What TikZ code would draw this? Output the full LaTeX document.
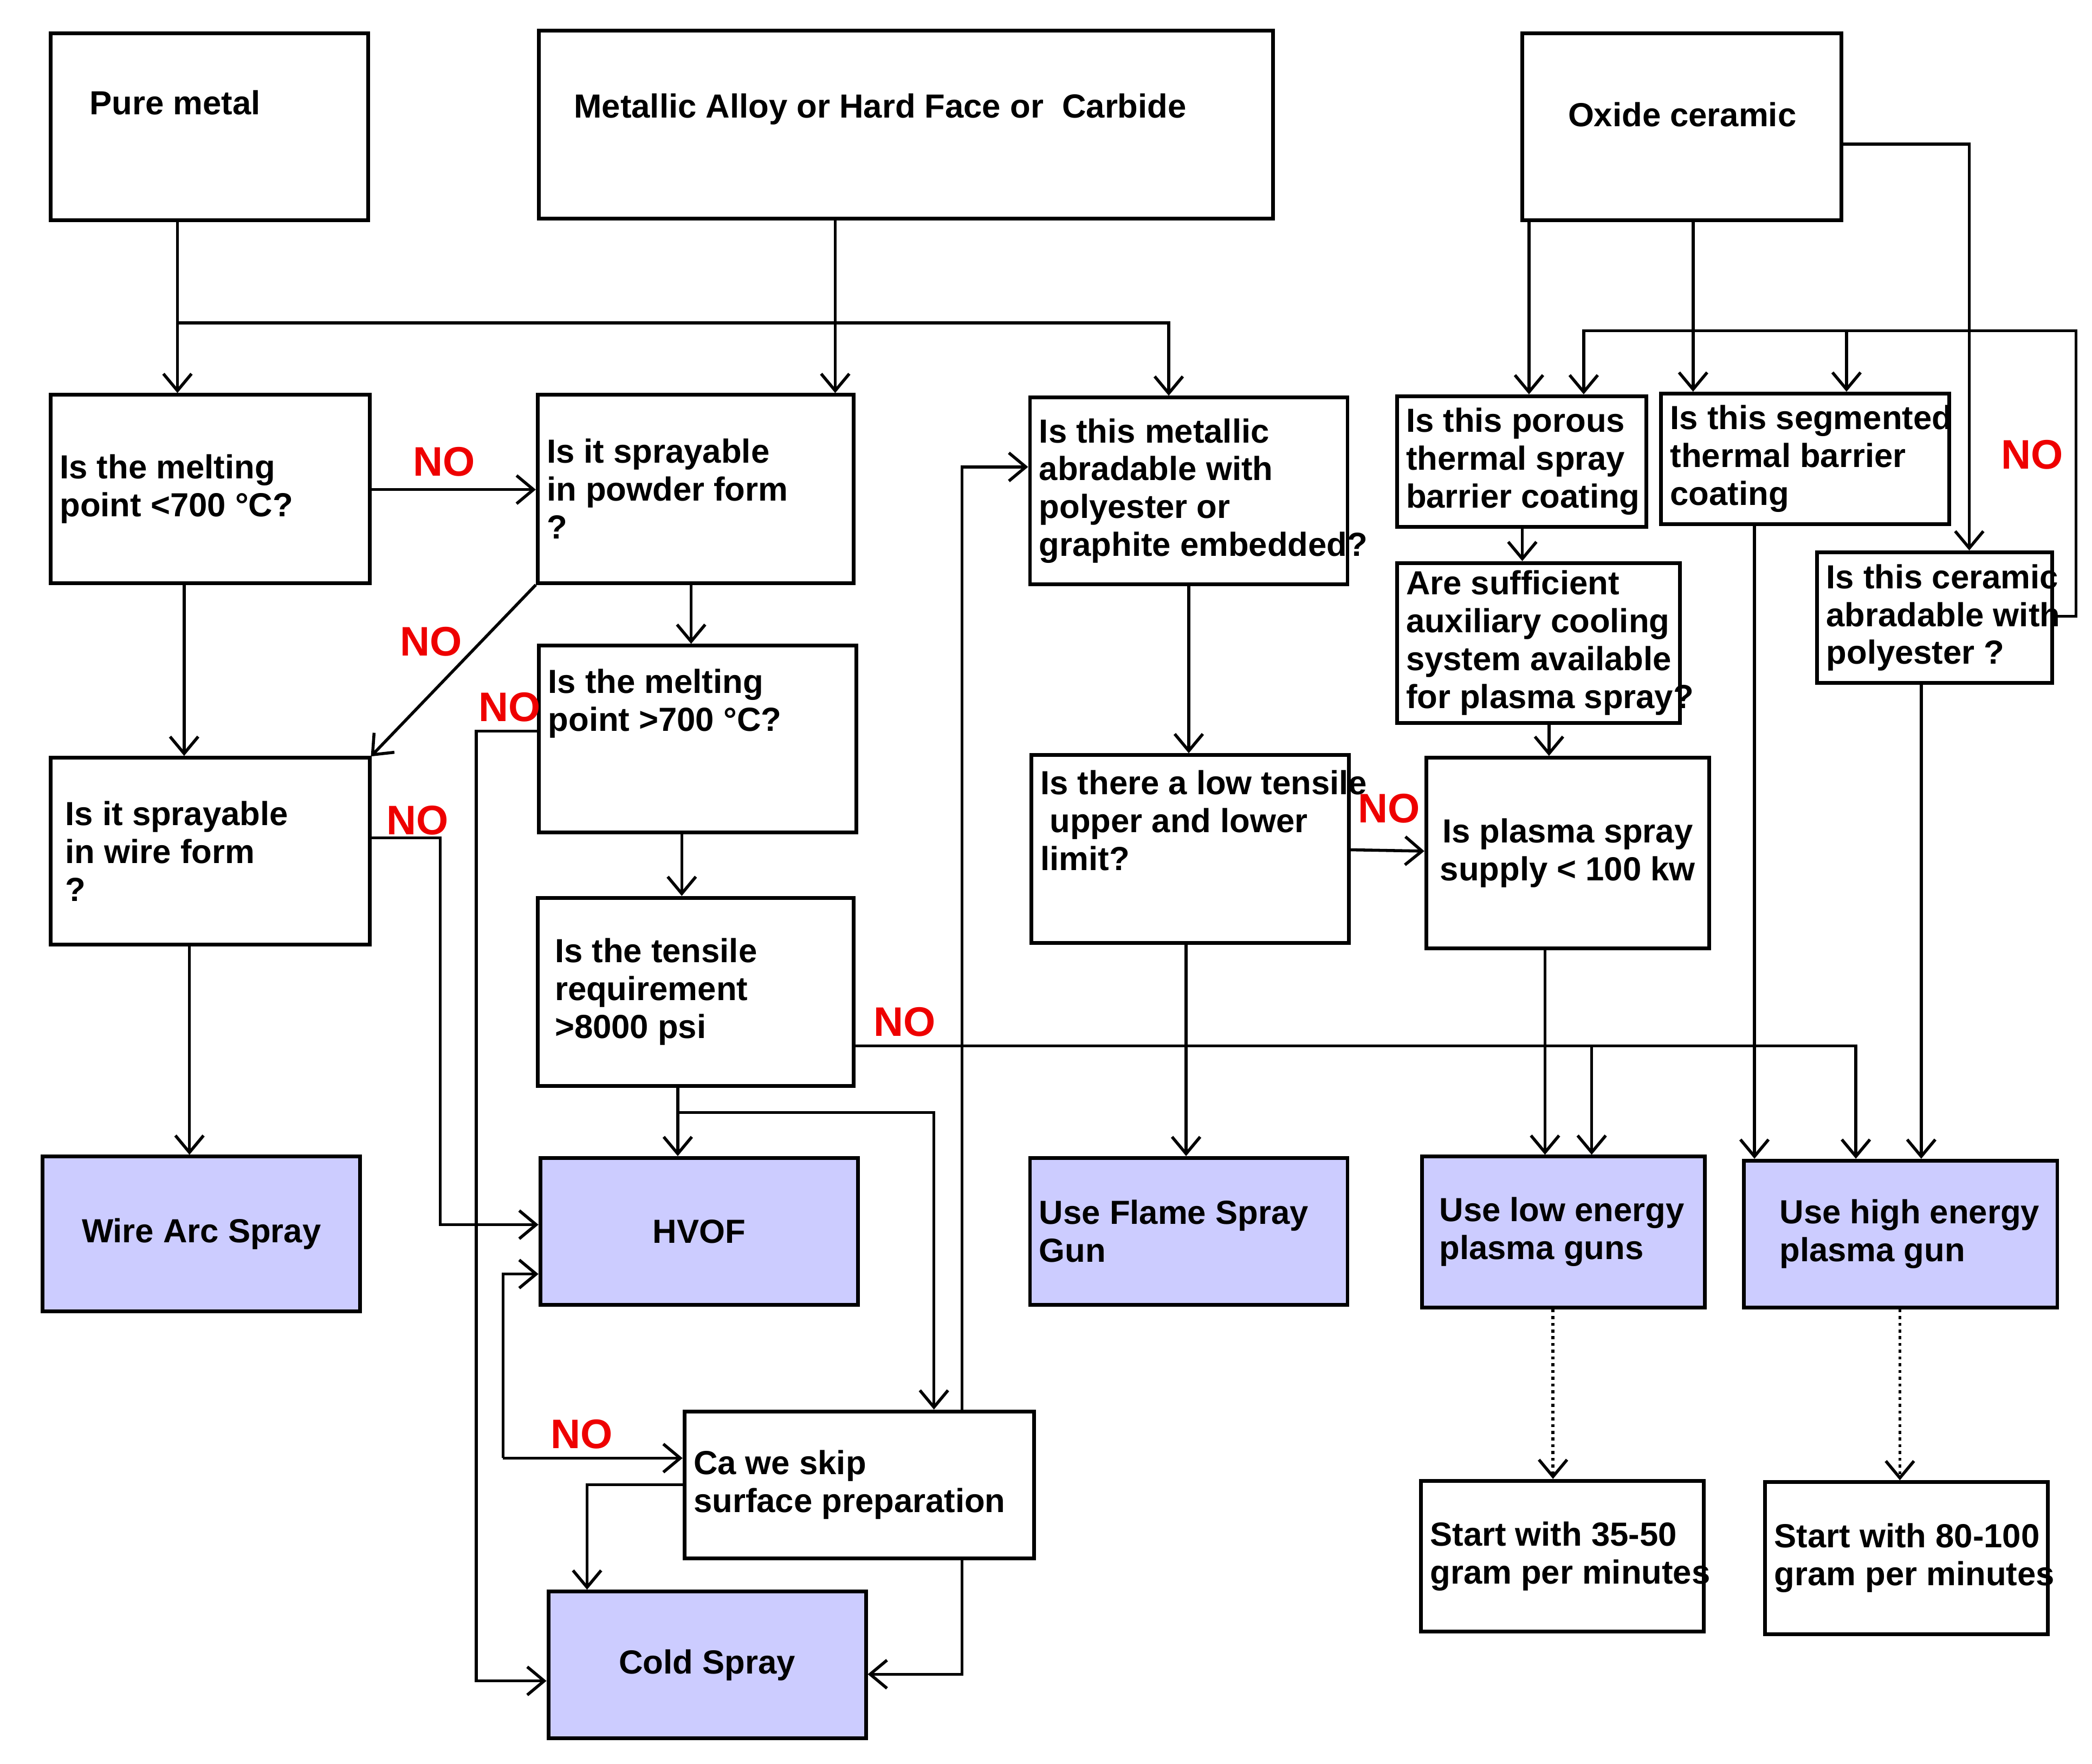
\documentclass[tikz,border=0pt]{standalone}
\usepackage{fontspec}
\setmainfont{Liberation Sans}
\usetikzlibrary{arrows.meta}
\definecolor{fillblue}{HTML}{CCCCFF}
\definecolor{nored}{HTML}{EE0000}
% #1 align, #2 name, #3-#6 x1 y1 x2 y2, #7 style, #8 text
\newcommand\bx[8][left]{%
  \pgfmathsetmacro\bw{(#5-#3)*0.025}%
  \pgfmathsetmacro\bh{(#6-#4)*0.025}%
  \node[#7,minimum width=\bw cm,minimum height=\bh cm] (#2) at ({(#3+#5)/2},{(#4+#6)/2}) {};
  \ifx l#1\relax
    \node[txt,anchor=west,align=left] (#2t) at ([xshift=0.2cm]#2.west) {#8};
  \else
    \node[txt,align=center] (#2t) at (#2.center) {#8};
  \fi}
\begin{document}
\begin{tikzpicture}[x=0.025cm,y=-0.025cm,
  box/.style={draw,line width=2pt,inner sep=0pt},
  res/.style={box,fill=fillblue},
  txt/.style={inner sep=0pt,font=\bfseries\fontsize{17.8}{20.2}\selectfont},
  arr/.style={line width=1.6pt,-{Straight Barb[length=9pt,width=15pt,line width=1.6pt]}},
  dar/.style={line width=1.6pt,dotted,-{Straight Barb[length=9pt,width=15pt,line width=1.6pt]}},
  no/.style={text=nored,font=\bfseries\fontsize{22}{24}\selectfont,inner sep=0pt}]
\useasboundingbox (0,0) rectangle (1568,1322);
% boxes
\bx{pure}{38}{25}{276}{165}{box}{}
\node[txt,anchor=west] (puret) at (67,77) {Pure metal};
\bx{alloy}{404}{23}{954}{164}{box}{}
\node[txt,anchor=west] (alloyt) at (430,82) {Metallic Alloy or Hard Face or~ Carbide};
\bx{oxide}{1141}{25}{1380}{165}{box}{}
\node[txt,anchor=west] (oxidet) at (1175,86) {Oxide ceramic};
\bx{melta}{38}{296}{277}{437}{box}{Is the melting\\point <700 °C?}
\bx{powder}{403}{296}{640}{437}{box}{Is it sprayable\\in powder form\\?}
\bx{metab}{772}{298}{1010}{438}{box}{Is this metallic\\abradable with\\polyester or\\graphite embedded?}
\bx{porous}{1047}{297}{1234}{395}{box}{Is this porous\\thermal spray\\barrier coating}
\bx{segm}{1245}{295}{1461}{393}{box}{Is this segmented\\thermal barrier\\coating}
\bx{ceram}{1362}{414}{1538}{512}{box}{Is this ceramic\\abradable with\\polyester ?}
\bx{cool}{1047}{422}{1259}{542}{box}{Are sufficient\\auxiliary cooling\\system available\\for plasma spray?}
\bx{wire}{38}{568}{277}{708}{box}{\,Is it sprayable\\\,in wire form\\\,?}
\bx{meltb}{404}{484}{642}{624}{box}{Is the melting\\point >700 °C?\\[1.2em]}
\bx{lowt}{773}{566}{1011}{707}{box}{Is there a low tensile\\\ upper and lower\\limit?\\[0.6em]}
\bx[c]{plasma}{1069}{568}{1281}{711}{box}{Is plasma spray\\supply < 100 kw}
\bx{tens}{403}{673}{640}{814}{box}{\hspace*{0.15cm}Is the tensile\\\hspace*{0.15cm}requirement\\\hspace*{0.15cm}>8000 psi}
\bx[c]{wirearc}{32}{867}{270}{983}{res}{Wire Arc Spray}
\bx[c]{hvof}{405}{868}{643}{978}{res}{HVOF}
\bx{flame}{772}{868}{1010}{978}{res}{Use Flame Spray\\Gun}
\bx{lowe}{1066}{867}{1278}{980}{res}{\hspace*{0.15cm}Use low energy\\\hspace*{0.15cm}plasma guns}
\bx{highe}{1307}{870}{1542}{980}{res}{\hspace*{0.5cm}Use high energy\\\hspace*{0.5cm}plasma gun}
\bx{skip}{513}{1058}{775}{1168}{box}{Ca we skip\\surface preparation}
\bx[c]{cold}{411}{1193}{649}{1303}{res}{Cold Spray}
\bx{st35}{1065}{1110}{1277}{1223}{box}{Start with 35-50\\gram per minutes}
\bx{st80}{1323}{1111}{1535}{1225}{box}{Start with 80-100\\gram per minutes}
% connectors
\coordinate (j1) at (133,242);
\draw[arr] (pure.south -| j1) -- (melta.north -| j1);
\draw[arr] (j1) -- (876,242) -- (metab.north -| 876,0);
\draw[arr] (alloy.south -| 626,0) -- (powder.north -| 626,0);
\draw[arr] (melta.east |- 0,367) -- (powder.west |- 0,367);
\draw[arr] (melta.south -| 138,0) -- (wire.north -| 138,0);
\draw[arr] (powder.south west) -- (278,567);
\draw[arr] (powder.south -| 518,0) -- (meltb.north -| 518,0);
\draw[arr] (meltb.west |- 0,548) -- (357,548) -- (357,1260) -- (cold.west |- 0,1260);
\draw[arr] (meltb.south -| 511,0) -- (tens.north -| 511,0);
\draw[arr] (wire.east |- 0,628) -- (330,628) -- (330,918) -- (hvof.west |- 0,918);
\draw[arr] (wire.south -| 142,0) -- (wirearc.north -| 142,0);
\draw[arr] (tens.south -| 508,0) -- (hvof.north -| 508,0);
\draw[arr] (508,834) -- (700,834) -- (skip.north -| 700,0);
\draw[arr] (tens.east |- 0,784) -- (1391,784) -- (highe.north -| 1391,0);
\draw[arr] (1193,784) -- (lowe.north -| 1193,0);
\draw[arr] (377,1093) -- (377,955) -- (hvof.west |- 0,955);
\draw[arr] (377,1093) -- (skip.west |- 0,1093);
\draw[arr] (skip.west |- 0,1113) -- (440,1113) -- (cold.north -| 440,0);
\draw[arr] (skip.north -| 721,0) -- (721,350) -- (metab.west |- 0,350);
\draw[arr] (skip.south -| 721,0) -- (721,1255) -- (cold.east |- 0,1255);
\draw[arr] (metab.south -| 891,0) -- (lowt.north -| 891,0);
\draw[arr] (lowt.east |- 0,637) -- (plasma.west |- 0,638);
\draw[arr] (lowt.south -| 889,0) -- (flame.north -| 889,0);
\draw[arr] (oxide.south -| 1146,0) -- (porous.north -| 1146,0);
\draw[arr] (oxide.south -| 1269,0) -- (segm.north -| 1269,0);
\draw[arr] (oxide.east |- 0,108) -- (1476,108) -- (ceram.north -| 1476,0);
\draw[arr] (ceram.east |- 0,462) -- (1556,462) -- (1556,248) -- (1187,248) -- (porous.north -| 1187,0);
\draw[arr] (1384,248) -- (segm.north -| 1384,0);
\draw[arr] (porous.south -| 1141,0) -- (cool.north -| 1141,0);
\draw[arr] (cool.south -| 1161,0) -- (plasma.north -| 1161,0);
\draw[arr] (plasma.south -| 1158,0) -- (lowe.north -| 1158,0);
\draw[arr] (segm.south -| 1315,0) -- (highe.north -| 1315,0);
\draw[arr] (ceram.south -| 1440,0) -- (highe.north -| 1440,0);
\draw[dar] (lowe.south -| 1164,0) -- (st35.north -| 1164,0);
\draw[dar] (highe.south -| 1424,0) -- (st80.north -| 1424,0);
% NO labels
\node[no] (n1) at (333,346) {NO};
\node[no] (n2) at (323,481) {NO};
\node[no] (n3) at (382,530) {NO};
\node[no] (n4) at (313,615) {NO};
\node[no] (n5) at (678,766) {NO};
\node[no] (n6) at (436,1075) {NO};
\node[no] (n7) at (1041,606) {NO};
\node[no] (n8) at (1523,341) {NO};
\end{tikzpicture}
\end{document}
